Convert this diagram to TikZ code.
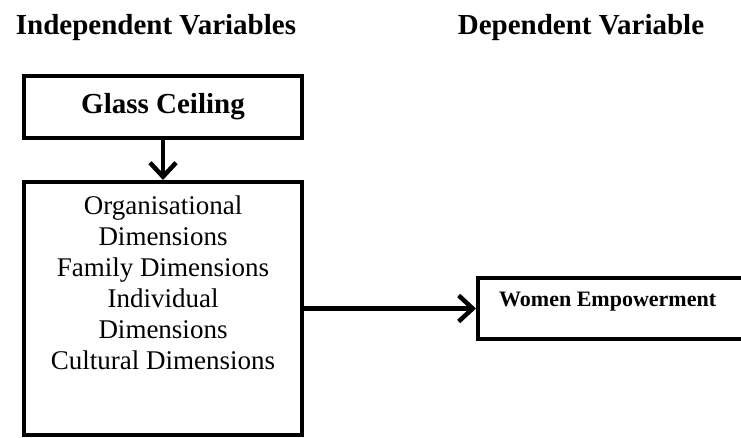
\documentclass[tikz,border=0pt]{standalone}
\usepackage{fontspec}
\setmainfont{Liberation Serif}
\usetikzlibrary{arrows.meta, positioning}

\tikzset{
  heading/.style={font=\fontsize{29}{34}\selectfont\bfseries, anchor=base, inner sep=0pt},
  varbox/.style={draw, line width=4pt, inner sep=0pt},
  link/.style={line width=4.5pt, -{Straight Barb[length=14pt, width=26pt, line width=4.5pt]}}
}

\begin{document}
\begin{tikzpicture}[x=1pt, y=-1pt]
  \clip (0,0) rectangle (741,437);
  \fill[white] (0,0) rectangle (741,437);

  % column headings
  \node[heading] (indep) at (156,34) {Independent Variables};
  \node[heading] (dep) at (581,34) {Dependent Variable};

  % independent side
  \node[varbox, minimum width=278pt, minimum height=62pt,
        font=\fontsize{29}{34}\selectfont\bfseries] (glass) at (163,107) {Glass Ceiling};
  \node[varbox, minimum width=278pt, minimum height=253pt] (dims) at (163,308.5) {};
  \node[anchor=north, align=center, inner sep=0pt,
        font=\fontsize{27}{31}\selectfont] (dimtext) at ([yshift=-16pt]dims.north)
    {Organisational\\Dimensions\\Family Dimensions\\Individual\\Dimensions\\Cultural Dimensions};

  % dependent side
  \node[varbox, minimum width=290pt, minimum height=61pt, anchor=west] (women) at (476,308.5) {};
  \node[anchor=west, inner sep=0pt, font=\fontsize{22}{26}\selectfont\bfseries]
    (wtext) at (499,302) {Women Empowerment};

  \draw[link] (glass.south) -- (dims.north);
  \draw[link] (dims.east) -- (women.west);
\end{tikzpicture}
\end{document}
